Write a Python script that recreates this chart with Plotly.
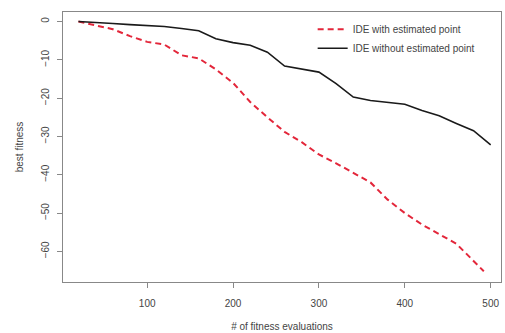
import plotly.graph_objects as go

x_without = [20, 40, 60, 80, 100, 120, 140, 160, 180, 200, 220, 240, 260, 280, 300,
             320, 340, 360, 380, 400, 420, 440, 460, 480, 500]
y_without = [0, -0.2, -0.5, -0.8, -1.1, -1.3, -1.8, -2.4, -4.5, -5.5, -6.2, -8.0, -11.6,
             -12.4, -13.2, -16.2, -19.7, -20.6, -21.1, -21.6, -23.2, -24.6, -26.6, -28.5, -32.2]

x_with = [20, 40, 60, 80, 100, 120, 140, 160, 180, 200, 220, 240, 260, 280, 300,
          320, 340, 360, 380, 400, 420, 440, 460, 480, 492]
y_with = [0, -1.0, -2.0, -3.8, -5.3, -6.0, -8.8, -9.6, -12.5, -16.0, -21.0, -25.0, -28.8,
          -31.5, -34.7, -37.0, -39.5, -42.0, -46.5, -50.0, -53.0, -55.5, -58.0, -62.5, -65.2]

x_ticks = [100, 200, 300, 400, 500]
y_ticks = [0, -10, -20, -30, -40, -50, -60]

font = dict(family="Liberation Sans, Arial, sans-serif", size=10, color="#444444")

fig = go.Figure()
fig.add_trace(go.Scatter(x=x_with, y=y_with, mode="lines", name="IDE with estimated point",
                         line=dict(color="#e3263a", width=2, dash="6px,4px")))
fig.add_trace(go.Scatter(x=x_without, y=y_without, mode="lines", name="IDE without estimated point",
                         line=dict(color="#1a1a1a", width=1.6)))

axis_common = dict(showgrid=False, zeroline=False, showline=True, mirror=True,
                   linecolor="#888888", linewidth=1, ticks="outside", ticklen=5,
                   tickcolor="#888888", tickfont=font)

fig.update_layout(
    width=505, height=333,
    margin=dict(l=63, r=3, t=12, b=49),
    paper_bgcolor="white", plot_bgcolor="white",
    font=font,
    showlegend=True,
    legend=dict(x=0.57, y=0.99, xanchor="left", yanchor="top",
                bgcolor="rgba(0,0,0,0)", font=dict(size=10, color="#444444"),
                tracegroupgap=0, itemwidth=30),
    xaxis=dict(range=[2, 512], tickvals=x_ticks, ticklabelstandoff=7, **axis_common,
               title=dict(text="# of fitness evaluations", standoff=14,
                          font=dict(size=10, color="#444444"))),
    yaxis=dict(range=[-68, 2.5], tickvals=y_ticks, tickangle=-90, ticklabelstandoff=4,
               **axis_common,
               title=dict(text="best fitness", standoff=14,
                          font=dict(size=10, color="#444444"))),
)

fig.write_html("out.html", post_script="document.body.style.margin='0';",
               config={"displayModeBar": False})
